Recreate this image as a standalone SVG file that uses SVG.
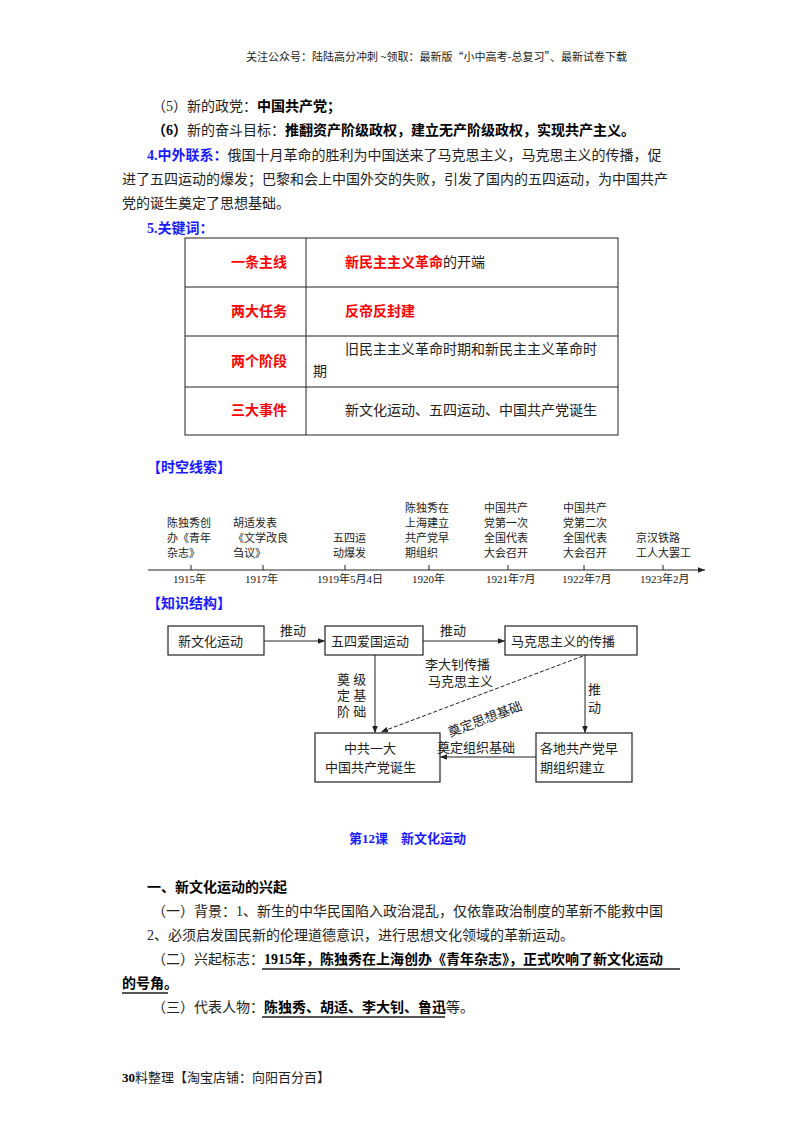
<svg xmlns="http://www.w3.org/2000/svg" width="800" height="1132" viewBox="0 0 800 1132">
<style>
text{font-family:"Liberation Serif","Noto Sans CJK SC",serif;font-size:14px;fill:#222}
.b{font-weight:bold;fill:#000}
.blue{fill:#1a1aff;font-weight:bold}
.red{fill:#ff0000;font-weight:bold}
.s{font-size:11px}
.n{font-size:13px}
.box{fill:#fff;stroke:#222;stroke-width:1.2}
.ln{stroke:#222;stroke-width:1;fill:none}
.u{stroke:#555;stroke-width:2}
</style>
<defs><marker id="a" viewBox="0 0 10 10" refX="10" refY="5" markerWidth="7" markerHeight="7" orient="auto"><path d="M0,1 L10,5 L0,9 z" fill="#222"/></marker></defs>
<rect width="800" height="1132" fill="#fff"/>
<text x="246" y="61" class="s" style="font-family:'Noto Sans CJK SC',sans-serif">关注公众号：陆陆高分冲刺  ~领取：最新版“小中高考-总复习”、最新试卷下载</text>
<text x="152" y="111">（5）新的政党：<tspan class="b">中国共产党；</tspan></text>
<text x="152" y="135"><tspan class="b">（6）</tspan>新的奋斗目标：<tspan class="b">推翻资产阶级政权，建立无产阶级政权，实现共产主义。</tspan></text>
<text x="147" y="160"><tspan class="blue">4.中外联系：</tspan>俄国十月革命的胜利为中国送来了马克思主义，马克思主义的传播，促</text>
<text x="122" y="184">进了五四运动的爆发；巴黎和会上中国外交的失败，引发了国内的五四运动，为中国共产</text>
<text x="122" y="208">党的诞生奠定了思想基础。</text>
<text x="147" y="233" class="blue">5.关键词：</text>
<g id="table">
<rect x="185" y="238" width="433" height="197" class="ln"/>
<line x1="185" y1="287" x2="618" y2="287" class="ln"/>
<line x1="185" y1="336" x2="618" y2="336" class="ln"/>
<line x1="185" y1="387" x2="618" y2="387" class="ln"/>
<line x1="306" y1="238" x2="306" y2="435" class="ln"/>
<text x="231" y="267" class="red">一条主线</text>
<text x="345" y="267"><tspan class="red">新民主主义革命</tspan>的开端</text>
<text x="231" y="316" class="red">两大任务</text>
<text x="345" y="316" class="red">反帝反封建</text>
<text x="231" y="366" class="red">两个阶段</text>
<text x="345" y="354">旧民主主义革命时期和新民主主义革命时</text>
<text x="313" y="376">期</text>
<text x="231" y="415" class="red">三大事件</text>
<text x="345" y="415">新文化运动、五四运动、中国共产党诞生</text>
</g>
<text x="147" y="472" class="blue">【时空线索】</text>
<g id="timeline">
<line x1="148" y1="570" x2="705" y2="570" class="ln" marker-end="url(#a)"/>
<text x="167" y="527" class="s">陈独秀创</text><text x="167" y="542" class="s">办《青年</text><text x="167" y="557" class="s">杂志》</text>
<text x="233" y="527" class="s">胡适发表</text><text x="233" y="542" class="s">《文学改良</text><text x="233" y="557" class="s">刍议》</text>
<text x="333" y="542" class="s">五四运</text><text x="333" y="557" class="s">动爆发</text>
<text x="405" y="512" class="s">陈独秀在</text><text x="405" y="527" class="s">上海建立</text><text x="405" y="542" class="s">共产党早</text><text x="405" y="557" class="s">期组织</text>
<text x="484" y="512" class="s">中国共产</text><text x="484" y="527" class="s">党第一次</text><text x="484" y="542" class="s">全国代表</text><text x="484" y="557" class="s">大会召开</text>
<text x="563" y="512" class="s">中国共产</text><text x="563" y="527" class="s">党第二次</text><text x="563" y="542" class="s">全国代表</text><text x="563" y="557" class="s">大会召开</text>
<text x="636" y="542" class="s">京汉铁路</text><text x="636" y="557" class="s">工人大罢工</text>
<text x="173" y="583" class="s">1915年</text>
<text x="245" y="583" class="s">1917年</text>
<text x="317" y="583" class="s">1919年5月4日</text>
<text x="412" y="583" class="s">1920年</text>
<text x="486" y="583" class="s">1921年7月</text>
<text x="562" y="583" class="s">1922年7月</text>
<text x="640" y="583" class="s">1923年2月</text>
<g class="ln"><line x1="191" y1="565" x2="191" y2="570"/><line x1="263" y1="565" x2="263" y2="570"/><line x1="345" y1="565" x2="345" y2="570"/><line x1="429" y1="565" x2="429" y2="570"/><line x1="508" y1="565" x2="508" y2="570"/><line x1="584" y1="565" x2="584" y2="570"/><line x1="663" y1="565" x2="663" y2="570"/></g>
</g>
<text x="147" y="608" class="blue">【知识结构】</text>
<g id="n1"><rect x="168" y="626" width="96" height="29" class="box"/><text x="178" y="646" class="n">新文化运动</text></g>
<g id="n2"><rect x="325" y="626" width="98" height="29" class="box"/><text x="331" y="646" class="n">五四爱国运动</text></g>
<g id="n3"><rect x="505" y="626" width="132" height="29" class="box"/><text x="511" y="646" class="n">马克思主义的传播</text></g>
<g id="n4"><rect x="315" y="733" width="125" height="49" class="box"/><text x="344" y="753" class="n">中共一大</text><text x="325" y="772" class="n">中国共产党诞生</text></g>
<g id="n5"><rect x="536" y="733" width="96" height="49" class="box"/><text x="540" y="753" class="n">各地共产党早</text><text x="540" y="772" class="n">期组织建立</text></g>
<g id="connectors">
<line x1="264" y1="641" x2="325" y2="641" class="ln" marker-end="url(#a)"/>
<line x1="423" y1="641" x2="505" y2="641" class="ln" marker-end="url(#a)"/>
<line x1="375" y1="655" x2="375" y2="733" class="ln" marker-end="url(#a)"/>
<line x1="585" y1="655" x2="585" y2="733" class="ln" marker-end="url(#a)"/>
<line x1="583" y1="656" x2="381" y2="732" class="ln" stroke-dasharray="4,2" marker-end="url(#a)"/>
<line x1="536" y1="757" x2="440" y2="757" class="ln" marker-end="url(#a)"/>
<text x="280" y="635" class="n">推动</text>
<text x="440" y="635" class="n">推动</text>
<text x="425" y="669" class="n">李大钊传播</text>
<text x="428" y="686" class="n">马克思主义</text>
<text x="337" y="684" class="n">奠 级</text>
<text x="337" y="700" class="n">定 基</text>
<text x="337" y="716" class="n">阶 础</text>
<text x="588" y="694" class="n">推</text>
<text x="588" y="712" class="n">动</text>
<text x="437" y="752" class="n">奠定组织基础</text>
<text x="0" y="0" class="n" transform="translate(450,737) rotate(-20.6)">奠定思想基础</text>
</g>
<text x="349" y="843" class="blue" style="font-size:13px">第12课　新文化运动</text>
<text x="147" y="892" class="b">一、新文化运动的兴起</text>
<text x="152" y="916">（一）背景：1、新生的中华民国陷入政治混乱，仅依靠政治制度的革新不能救中国</text>
<text x="147" y="940">2、必须启发国民新的伦理道德意识，进行思想文化领域的革新运动。</text>
<text x="152" y="964">（二）兴起标志：<tspan class="b">1915年，陈独秀在上海创办《青年杂志》，正式吹响了新文化运动</tspan></text>
<line x1="262" y1="969" x2="680" y2="969" class="u"/>
<text x="122" y="988" class="b">的号角。</text>
<line x1="122" y1="993" x2="168" y2="993" class="u"/>
<text x="152" y="1012">（三）代表人物：<tspan class="b">陈独秀、胡适、李大钊、鲁迅</tspan>等。</text>
<line x1="262" y1="1017" x2="445" y2="1017" class="u"/>
<text x="122" y="1082" class="n"><tspan class="b">30</tspan>料整理【淘宝店铺：向阳百分百】</text>
</svg>
